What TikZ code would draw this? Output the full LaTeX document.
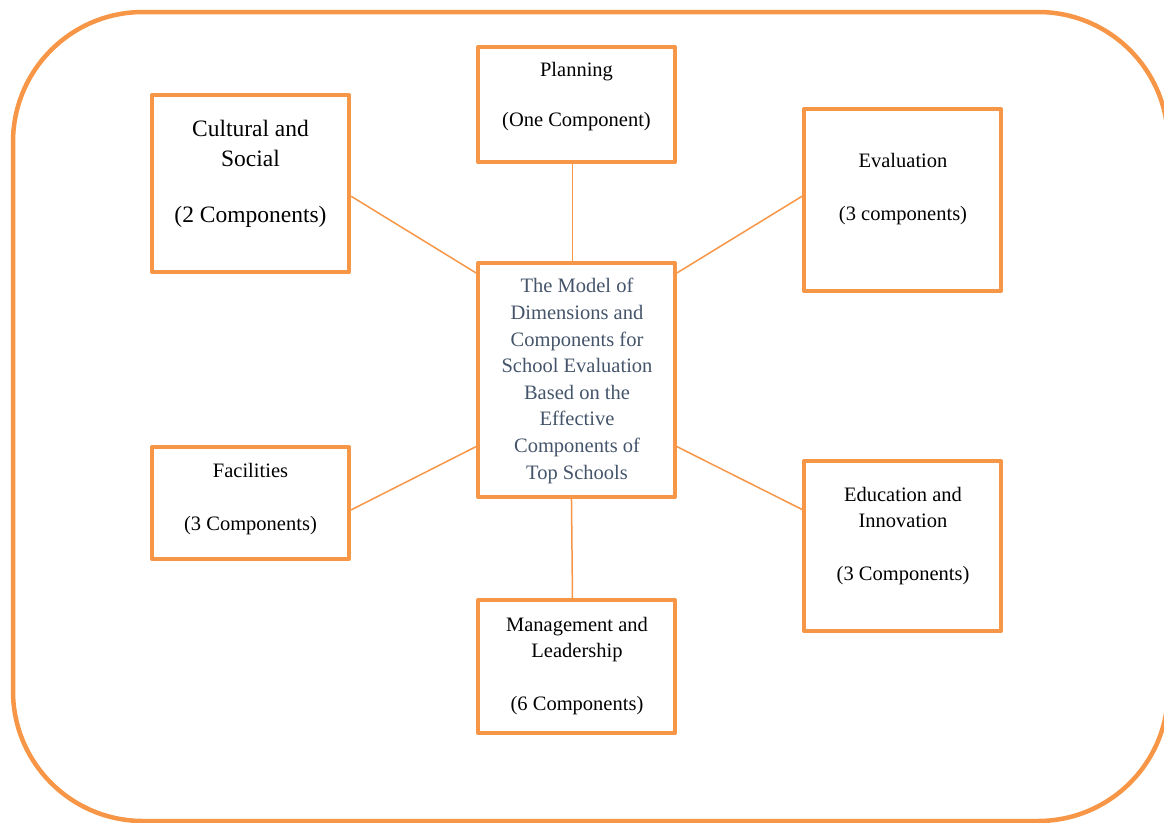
\documentclass[tikz,border=0pt]{standalone}
\usepackage{fontspec}
\setmainfont{Liberation Serif}
\usetikzlibrary{calc}
\definecolor{orng}{HTML}{F79646}
\definecolor{slate}{HTML}{44546A}
\begin{document}
\begin{tikzpicture}[x=1pt,y=-1pt,
  box/.style={draw=orng,line width=4pt,line join=round,rectangle,inner sep=0pt,minimum width=197pt},
  lbl/.style={align=center,inner sep=0pt,text=black,font=\fontsize{20.5}{26}\selectfont},
  biglbl/.style={align=center,inner sep=0pt,text=black,font=\fontsize{23.5}{30}\selectfont},
  link/.style={draw=orng,line width=1.5pt}]
\useasboundingbox (0,0) rectangle (1164,822);
\draw[orng,line width=4.5pt,rounded corners=130pt] (13,12) rectangle (1168,821);

\node[box,minimum height=177pt] (cult) at (250.5,183.5) {};
\node[box,minimum height=115pt] (plan) at (576.5,104.5) {};
\node[box,minimum height=182pt] (eval) at (902.5,200) {};
\node[box,minimum height=234pt] (mid) at (576.5,380) {};
\node[box,minimum height=112pt] (fac) at (250.5,503) {};
\node[box,minimum height=170pt] (edu) at (902.5,546) {};
\node[box,minimum height=133pt] (man) at (576.5,666.5) {};

\node[biglbl] (cultt) at (250.5,173.5) {Cultural and\\Social\\[26pt](2 Components)};
\node[lbl] (plant) at (576.5,96.5) {Planning\\[24pt](One Component)};
\node[lbl] (evalt) at (903,189) {Evaluation\\[27pt](3 components)};
\node[lbl,text=slate,font=\fontsize{20.5}{26.6}\selectfont] (midt) at (577,381) {The Model of\\Dimensions and\\Components for\\School Evaluation\\Based on the\\Effective\\Components of\\Top Schools};
\node[lbl] (fact) at (250.5,499) {Facilities\\[27pt](3 Components)};
\node[lbl] (edut) at (903,536) {Education and\\Innovation\\[27pt](3 Components)};
\node[lbl] (mant) at (577,666.5) {Management and\\Leadership\\[27pt](6 Components)};

\draw[link] ($(plan.south west)!0.48!(plan.south east)$) -- ($(mid.north west)!0.48!(mid.north east)$);
\draw[link] ($(cult.north east)!0.57!(cult.south east)$) -- ($(mid.north west)!0.05!(mid.south west)$);
\draw[link] ($(eval.north west)!0.48!(eval.south west)$) -- ($(mid.north east)!0.05!(mid.south east)$);
\draw[link] ($(fac.north east)!0.56!(fac.south east)$) -- ($(mid.north west)!0.78!(mid.south west)$);
\draw[link] ($(edu.north west)!0.29!(edu.south west)$) -- ($(mid.north east)!0.78!(mid.south east)$);
\draw[link] ($(mid.south west)!0.475!(mid.south east)$) -- ($(man.north west)!0.48!(man.north east)$);
\end{tikzpicture}
\end{document}
